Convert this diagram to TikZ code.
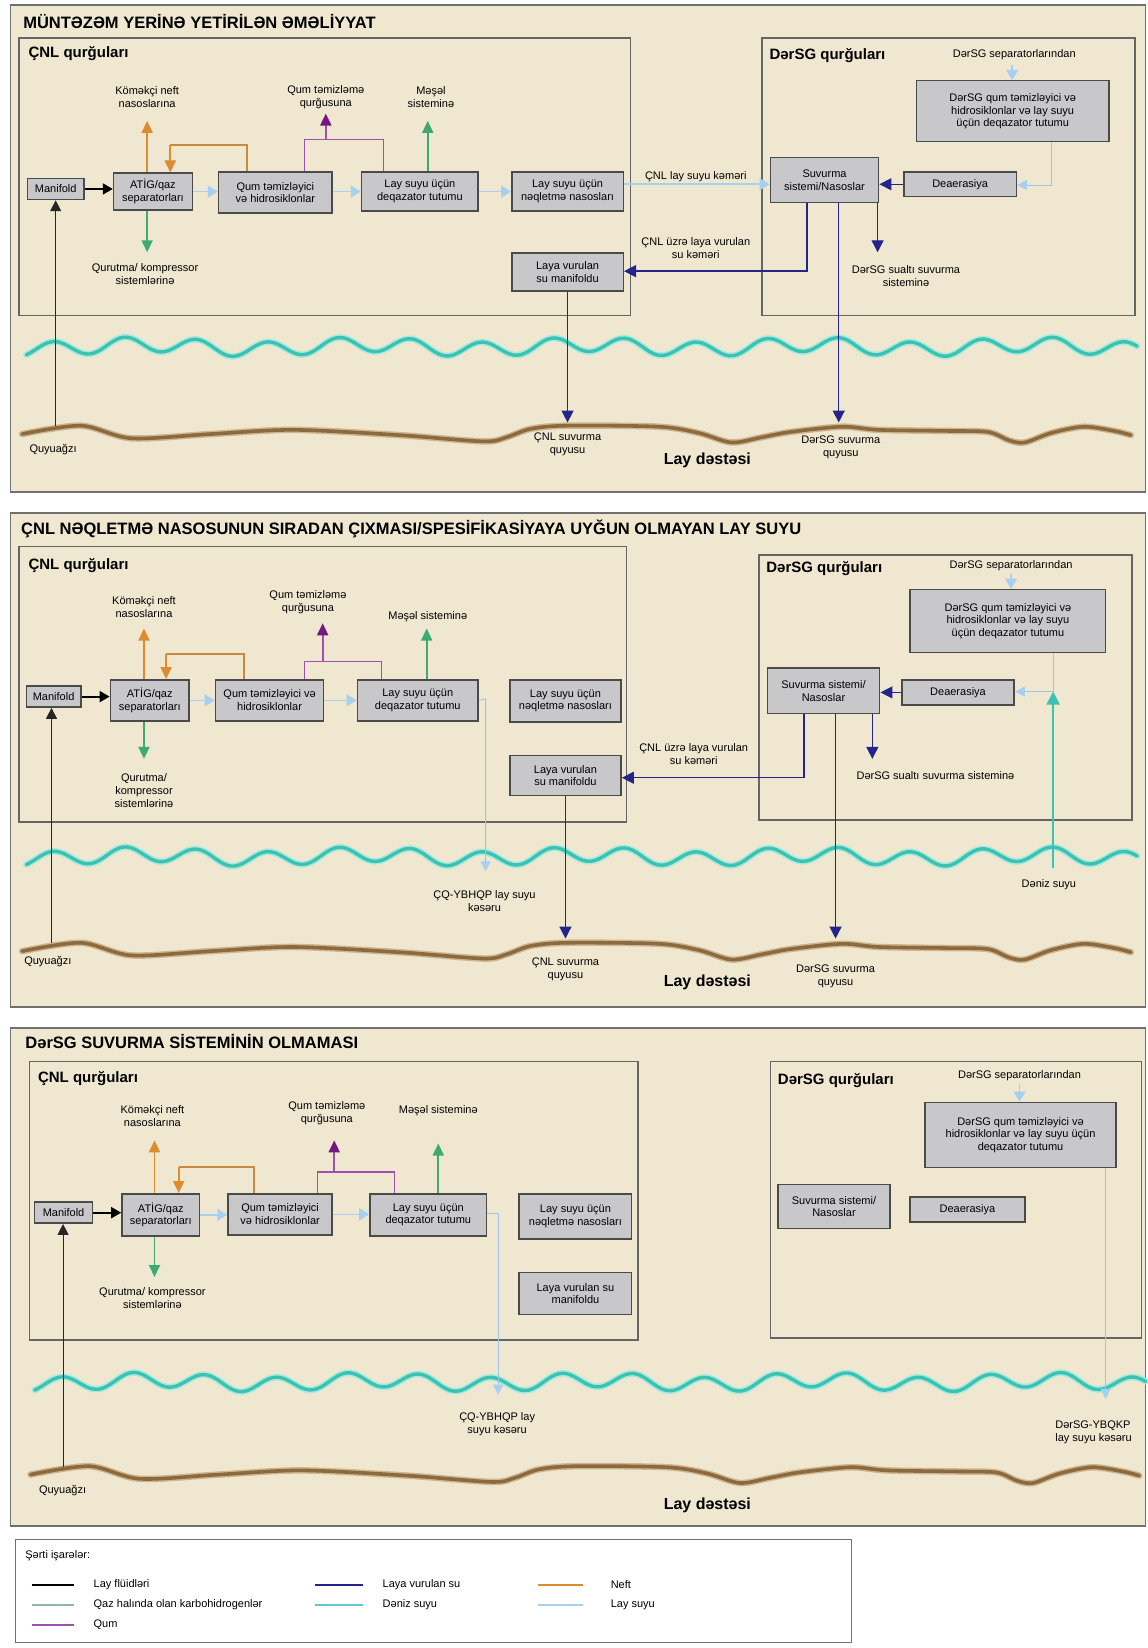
\documentclass[tikz,border=0pt]{standalone}
\usepackage{fontspec}
\setmainfont{Liberation Sans}
\usetikzlibrary{arrows.meta}

\definecolor{paper}{HTML}{EFE7D0}
\definecolor{framecol}{HTML}{707070}
\definecolor{boxfill}{HTML}{C8C8CB}
\definecolor{boxline}{HTML}{4A4A4A}
\definecolor{oilc}{HTML}{DE8A2E}
\definecolor{oilline}{HTML}{C98A3E}
\definecolor{gasc}{HTML}{3DAA74}
\definecolor{sandc}{HTML}{A050B0}
\definecolor{sanddark}{HTML}{74187F}
\definecolor{navyc}{HTML}{24248C}
\definecolor{pwc}{HTML}{A6D0F2}
\definecolor{seac}{HTML}{3CC2B0}
\definecolor{seaglowc}{HTML}{A8EADF}
\definecolor{earthc}{HTML}{8C6A3E}
\definecolor{earthglowc}{HTML}{CDB690}
\definecolor{legsea}{HTML}{5CC8D8}
\definecolor{leggas}{HTML}{8FB8A0}

\newcommand\nodefont{\fontsize{11}{12.5}\selectfont}
\newcommand\lblfont{\fontsize{11}{13}\selectfont}
\newcommand\sealine{plot[domain=25:1082,samples=300,smooth] (\x,{330+7*sin(5.3*\x)+2.5*sin(1.7*\x+40)})}
\newcommand\groundline{plot[smooth,tension=0.5] coordinates {(21,413) (77,405) (125,417) (200,413) (279,409) (380,414) (460,420) (482,416) (505,408) (540,405) (627,406) (665,412) (696,421) (725,416) (752,411) (801,406) (836,409) (900,410) (940,411) (960,419) (975,421) (1000,412) (1031,406) (1060,410) (1076,414)}}
% unit box: name, left, top, right, bottom, text
\newcommand\ubx[6]{\node[ubox, minimum width={(#4-#2)*1.0513pt}, minimum height={(#5-#3)*1.0513pt}] (#1) at ({(#2+#4)/2},{(#3+#5)/2+0.8}) {#6};}

\tikzset{
  panel/.style={draw=framecol, line width=1.6pt, fill=paper},
  area/.style={draw=framecol!90!black, line width=1.5pt},
  ubox/.style={draw=boxline, line width=1.5pt, fill=boxfill, inner sep=0pt, align=center, font=\nodefont},
  lbl/.style={align=center, font=\lblfont, inner sep=1pt},
  ttl/.style={anchor=west, inner sep=0pt, font=\fontsize{16.5}{18}\selectfont\bfseries},
  sub/.style={anchor=west, inner sep=0pt, font=\fontsize{15}{17}\selectfont\bfseries},
  bigl/.style={inner sep=0pt, font=\fontsize{16}{18}\selectfont\bfseries},
  flu/.style={draw=black, line width=2pt, -{Triangle[length=10pt,width=11pt]}},
  fluthin/.style={draw=black!85, line width=1.1pt, -{Triangle[length=11pt,width=11pt]}},
  oil/.style={draw=oilline, line width=1.8pt},
  oilarr/.style={draw=oilc, line width=1.8pt, -{Triangle[length=12pt,width=11pt]}},
  gasarr/.style={draw=gasc, line width=1.8pt, -{Triangle[length=12pt,width=11pt]}},
  sand/.style={draw=sandc, line width=1.2pt},
  sandarr/.style={draw=sandc, line width=2pt, -{Triangle[length=12pt,width=11pt,color=sanddark]}},
  inj/.style={draw=navyc, line width=1.4pt, -{Triangle[length=12pt,width=12pt]}},
  pw/.style={draw=pwc, line width=1.5pt, -{Triangle[length=10pt,width=12pt]}},
  pwthin/.style={draw=pwc!85!gray, line width=0.9pt, -{Triangle[length=10pt,width=10pt,color=pwc]}},
  seawater/.style={draw=seac, line width=2.2pt, -{Triangle[length=13pt,width=13pt]}},
  seaglow/.style={draw=seaglowc, line width=6.5pt, line cap=round},
  sea/.style={draw=seac, line width=3.4pt, line cap=round},
  earthglow/.style={draw=earthglowc, line width=6.5pt, line cap=round},
  earth/.style={draw=earthc, line width=3.6pt, line cap=round},
  leg/.style={line width=2.4pt},
}

\begin{document}
\begin{tikzpicture}[x=1.0513pt,y=-1.0513pt]
\useasboundingbox (0,0) rectangle (1092,1568);
\fill[white] (0,0) rectangle (1092,1568);

% ================= Panel 1: normal operation =================
\draw[panel] (10,5) rectangle (1090,468);
\node[ttl] (t1) at (22,20) {MÜNTƏZƏM YERİNƏ YETİRİLƏN ƏMƏLİYYAT};
\draw[area] (18,36) rectangle (600,300);
\node[sub] (c1) at (27,51) {ÇNL qurğuları};
\draw[area] (725,36) rectangle (1080,300);
\node[sub] (d1) at (732,53) {DərSG qurğuları};

\draw[seaglow] \sealine;
\draw[sea] \sealine;
\draw[earthglow] \groundline;
\draw[earth] \groundline;

\ubx{man1}{26}{169}{80}{189}{Manifold}
\ubx{atig1}{108}{164}{183}{199}{ATİG/qaz\\separatorları}
\ubx{qum1}{208}{163}{316}{202}{Qum təmizləyici\\və hidrosiklonlar}
\ubx{deq1}{344}{163}{455}{200}{Lay suyu üçün\\deqazator tutumu}
\ubx{nql1}{487}{163}{593}{200}{Lay suyu üçün\\nəqletmə nasosları}
\ubx{lvm1}{487}{240}{593}{276}{Laya vurulan\\su manifoldu}
\ubx{suv1}{733}{149}{836}{192}{Suvurma\\sistemi/Nasoslar}
\ubx{dea1}{860}{163}{967}{186}{Deaerasiya}
\ubx{dqm1}{872}{76}{1055}{134}{DərSG qum təmizləyici və\\hidrosiklonlar və lay suyu\\üçün deqazator tutumu}

\coordinate (wh1) at (53,405);
\coordinate (oilup1) at (140,115);
\coordinate (oilr1) at (235,138);
\coordinate (oill1) at (162,138);
\coordinate (dry1) at (140,240);
\coordinate (sl1) at (290,133);
\coordinate (sr1) at (365,133);
\coordinate (sup1) at (310,108);
\coordinate (gas1) at (407,115);
\coordinate (cwell1) at (540,402);
\coordinate (nv1) at (768,258);
\coordinate (well1) at (798,402);
\coordinate (subs1) at (835,240);
\coordinate (dsep1) at (963,62);
\coordinate (dv1) at (1000,176);

\draw[flu] (man1.east) -- (atig1.west |- man1.east);
\draw[fluthin] (wh1) -- (man1.south -| wh1);
\draw[oilarr] (atig1.north -| oilup1) -- (oilup1);
\draw[oil] (qum1.north -| oilr1) -- (oilr1) -- (oill1);
\draw[oilarr] (oill1) -- (atig1.north -| oill1);
\draw[gasarr] (atig1.south -| dry1) -- (dry1);
\draw[pw] (atig1.east) -- (qum1.west |- atig1.east);
\draw[pw] (qum1.east |- deq1.east) -- (deq1.west);
\draw[pw] (deq1.east) -- (nql1.west |- deq1.east);
\draw[sand] (qum1.north -| sl1) -- (sl1) -- (sr1) -- (deq1.north -| sr1);
\draw[sandarr] (sup1 |- sl1) -- (sup1);
\draw[gasarr] (deq1.north -| gas1) -- (gas1);
\draw[pw] (nql1.east |- dea1.west) -- (suv1.west |- dea1.west);
\draw[inj] (lvm1.south -| cwell1) -- (cwell1);
\draw[inj] (suv1.south -| nv1) -- (nv1) -- (lvm1.east |- nv1);
\draw[inj] (suv1.south -| well1) -- (well1);
\draw[inj] (suv1.south -| subs1) -- (subs1);
\draw[inj] (dea1.west) -- (suv1.east |- dea1.west);
\draw[pw] (dsep1) -- (dqm1.north -| dsep1);
\draw[pwthin] (dqm1.south -| dv1) -- (dv1) -- (dea1.east |- dv1);

\node[lbl] (k1) at (140,92) {Köməkçi neft\\nasoslarına};
\node[lbl] (qt1) at (310,92) {Qum təmizləmə\\qurğusuna};
\node[lbl] (ms1) at (410,92) {Məşəl\\sisteminə};
\node[lbl] (qk1) at (138,261) {Qurutma/ kompressor\\sistemlərinə};
\node[lbl] (ck1) at (662,168) {ÇNL lay suyu kəməri};
\node[lbl] (cu1) at (662,236) {ÇNL üzrə laya vurulan\\su kəməri};
\node[lbl] (ds1) at (965,52) {DərSG separatorlarından};
\node[lbl] (dsu1) at (862,263) {DərSG sualtı suvurma\\sisteminə};
\node[lbl, anchor=west] (qa1) at (27,428) {Quyuağzı};
\node[lbl] (cw1) at (540,423) {ÇNL suvurma\\quyusu};
\node[bigl] (ld1) at (673,438) {Lay dəstəsi};
\node[lbl] (dw1) at (800,426) {DərSG suvurma\\quyusu};

% ================= Panel 2: transfer pump failure =================
\draw[panel] (10,488) rectangle (1090,958);
\node[ttl] (t2) at (20,503) {ÇNL NƏQLETMƏ NASOSUNUN SIRADAN ÇIXMASI/SPESİFİKASİYAYA UYĞUN OLMAYAN LAY SUYU};
\draw[area] (18,520) rectangle (596,782);
\node[sub] (c2) at (27,538) {ÇNL qurğuları};
\draw[area] (722,528) rectangle (1077,780);
\node[sub] (d2) at (729,541) {DərSG qurğuları};

\begin{scope}[shift={(0,485)}]
\draw[seaglow] \sealine;
\draw[sea] \sealine;
\end{scope}
\begin{scope}[shift={(0,492)}]
\draw[earthglow] \groundline;
\draw[earth] \groundline;
\end{scope}

\ubx{man2}{25}{652}{77}{672}{Manifold}
\ubx{atig2}{105}{646}{180}{685}{ATİG/qaz\\separatorları}
\ubx{qum2}{205}{646}{308}{685}{Qum təmizləyici və\\hidrosiklonlar}
\ubx{deq2}{340}{646}{455}{685}{Lay suyu üçün\\deqazator tutumu}
\ubx{nql2}{485}{646}{591}{686}{Lay suyu üçün\\nəqletmə nasosları}
\ubx{lvm2}{485}{718}{591}{756}{Laya vurulan\\su manifoldu}
\ubx{suv2}{730}{635}{837}{678}{Suvurma sistemi/\\Nasoslar}
\ubx{dea2}{858}{646}{965}{670}{Deaerasiya}
\ubx{dqm2}{866}{560}{1052}{620}{DərSG qum təmizləyici və\\hidrosiklonlar və lay suyu\\üçün deqazator tutumu}

\coordinate (wh2) at (49,897);
\coordinate (oilup2) at (137,598);
\coordinate (oilr2) at (232,622);
\coordinate (oill2) at (158,622);
\coordinate (dry2) at (137,722);
\coordinate (sl2) at (290,629);
\coordinate (sr2) at (363,629);
\coordinate (sup2) at (307,593);
\coordinate (gas2) at (406,598);
\coordinate (off2a) at (462,665);
\coordinate (off2) at (462,829);
\coordinate (cwell2) at (538,893);
\coordinate (nv2) at (765,740);
\coordinate (well2) at (795,893);
\coordinate (subs2) at (830,722);
\coordinate (dsep2) at (962,546);
\coordinate (dv2) at (1002,658);
\coordinate (sw2a) at (1002,826);
\coordinate (sw2) at (1002,658);

\draw[flu] (man2.east) -- (atig2.west |- man2.east);
\draw[fluthin] (wh2) -- (man2.south -| wh2);
\draw[oilarr] (atig2.north -| oilup2) -- (oilup2);
\draw[oil] (qum2.north -| oilr2) -- (oilr2) -- (oill2);
\draw[oilarr] (oill2) -- (atig2.north -| oill2);
\draw[gasarr] (atig2.south -| dry2) -- (dry2);
\draw[pw] (atig2.east) -- (qum2.west |- atig2.east);
\draw[pw] (qum2.east) -- (deq2.west |- qum2.east);
\draw[sand] (qum2.north -| sl2) -- (sl2) -- (sr2) -- (deq2.north -| sr2);
\draw[sandarr] (sup2 |- sl2) -- (sup2);
\draw[gasarr] (deq2.north -| gas2) -- (gas2);
\draw[pwthin] (deq2.east) -- (off2a) -- (off2);
\draw[inj] (lvm2.south -| cwell2) -- (cwell2);
\draw[inj] (suv2.south -| nv2) -- (nv2) -- (lvm2.east |- nv2);
\draw[inj] (suv2.south -| well2) -- (well2);
\draw[inj] (suv2.south -| subs2) -- (subs2);
\draw[inj] (dea2.west) -- (suv2.east |- dea2.west);
\draw[pw] (dsep2) -- (dqm2.north -| dsep2);
\draw[seawater] (sw2a) -- (sw2);
\draw[pwthin] (dqm2.south -| dv2) -- (dv2) -- (dea2.east |- dv2);

\node[lbl] (k2) at (137,578) {Köməkçi neft\\nasoslarına};
\node[lbl] (qt2) at (293,573) {Qum təmizləmə\\qurğusuna};
\node[lbl] (ms2) at (407,587) {Məşəl sisteminə};
\node[lbl] (qk2) at (137,752) {Qurutma/\\kompressor\\sistemlərinə};
\node[lbl] (cu2) at (660,717) {ÇNL üzrə laya vurulan\\su kəməri};
\node[lbl] (ds2) at (962,538) {DərSG separatorlarından};
\node[lbl] (dsu2) at (890,738) {DərSG sualtı suvurma sisteminə};
\node[lbl] (ob2) at (461,857) {ÇQ-YBHQP lay suyu\\kəsəru};
\node[lbl] (dz2) at (998,842) {Dəniz suyu};
\node[lbl, anchor=west] (qa2) at (22,915) {Quyuağzı};
\node[lbl] (cw2) at (538,922) {ÇNL suvurma\\quyusu};
\node[bigl] (ld2) at (673,935) {Lay dəstəsi};
\node[lbl] (dw2) at (795,929) {DərSG suvurma\\quyusu};

% ================= Panel 3: no DerSG injection system =================
\draw[panel] (10,978) rectangle (1090,1452);
\node[ttl] (t3) at (24,991) {DərSG SUVURMA SİSTEMİNİN OLMAMASI};
\draw[area] (28,1010) rectangle (607,1275);
\node[sub] (c3) at (36,1026) {ÇNL qurğuları};
\draw[area] (733,1010) rectangle (1086,1273);
\node[sub] (d3) at (740,1028) {DərSG qurğuları};

\begin{scope}[shift={(8,985)}]
\draw[seaglow] \sealine;
\draw[sea] \sealine;
\end{scope}
\begin{scope}[shift={(8,990)}]
\draw[earthglow] \groundline;
\draw[earth] \groundline;
\end{scope}

\ubx{man3}{33}{1143}{88}{1163}{Manifold}
\ubx{atig3}{116}{1135}{190}{1175}{ATİG/qaz\\separatorları}
\ubx{qum3}{217}{1135}{316}{1174}{Qum təmizləyici\\və hidrosiklonlar}
\ubx{deq3}{352}{1135}{463}{1175}{Lay suyu üçün\\deqazator tutumu}
\ubx{nql3}{494}{1135}{601}{1178}{Lay suyu üçün\\nəqletmə nasosları}
\ubx{lvm3}{494}{1210}{601}{1250}{Laya vurulan su\\manifoldu}
\ubx{suv3}{740}{1126}{847}{1168}{Suvurma sistemi/\\Nasoslar}
\ubx{dea3}{866}{1138}{975}{1162}{Deaerasiya}
\ubx{dqm3}{880}{1048}{1062}{1110}{DərSG qum təmizləyici və\\hidrosiklonlar və lay suyu üçün\\deqazator tutumu}

\coordinate (wh3) at (60,1396);
\coordinate (oilup3) at (147,1085);
\coordinate (oilr3) at (242,1110);
\coordinate (oill3) at (170,1110);
\coordinate (dry3) at (147,1215);
\coordinate (sl3) at (302,1115);
\coordinate (sr3) at (375,1115);
\coordinate (sup3) at (318,1085);
\coordinate (gas3) at (417,1088);
\coordinate (off3a) at (474,1155);
\coordinate (off3) at (474,1327);
\coordinate (dsep3) at (970,1031);
\coordinate (doff3) at (1052,1331);

\draw[flu] (man3.east) -- (atig3.west |- man3.east);
\draw[fluthin] (wh3) -- (man3.south -| wh3);
\draw[oilarr] (atig3.north -| oilup3) -- (oilup3);
\draw[oil] (qum3.north -| oilr3) -- (oilr3) -- (oill3);
\draw[oilarr] (oill3) -- (atig3.north -| oill3);
\draw[gasarr] (atig3.south -| dry3) -- (dry3);
\draw[pw] (atig3.east) -- (qum3.west |- atig3.east);
\draw[pw] (qum3.east) -- (deq3.west |- qum3.east);
\draw[sand] (qum3.north -| sl3) -- (sl3) -- (sr3) -- (deq3.north -| sr3);
\draw[sandarr] (sup3 |- sl3) -- (sup3);
\draw[gasarr] (deq3.north -| gas3) -- (gas3);
\draw[pwthin] (deq3.east |- off3a) -- (off3a) -- (off3);
\draw[pw] (dsep3) -- (dqm3.north -| dsep3);
\draw[pwthin] (dqm3.south -| doff3) -- (doff3);

\node[lbl] (k3) at (145,1062) {Köməkçi neft\\nasoslarına};
\node[lbl] (qt3) at (311,1059) {Qum təmizləmə\\qurğusuna};
\node[lbl] (ms3) at (417,1057) {Məşəl sisteminə};
\node[lbl] (qk3) at (145,1235) {Qurutma/ kompressor\\sistemlərinə};
\node[lbl] (ds3) at (970,1023) {DərSG separatorlarından};
\node[lbl] (ob3) at (473,1355) {ÇQ-YBHQP lay\\suyu kəsəru};
\node[lbl, anchor=west, align=left] (ob3d) at (1003,1363) {DərSG-YBQKP\\lay suyu kəsəru};
\node[lbl, anchor=west] (qa3) at (36,1418) {Quyuağzı};
\node[bigl] (ld3) at (673,1432) {Lay dəstəsi};

% ================= Legend =================
\draw[draw=framecol, line width=1.3pt, fill=white] (15,1465) rectangle (810,1563);
\node[lbl, anchor=west] (lg) at (23,1480) {Şərti işarələr:};
\draw[leg, black] (30,1508) -- (70,1508);
\node[lbl, anchor=west] (lg1) at (88,1508) {Lay flüidləri};
\draw[leg, leggas] (30,1527) -- (70,1527);
\node[lbl, anchor=west] (lg2) at (88,1527) {Qaz halında olan karbohidrogenlər};
\draw[leg, sandc] (30,1546) -- (70,1546);
\node[lbl, anchor=west] (lg3) at (88,1546) {Qum};
\draw[leg, navyc] (300,1508) -- (345,1508);
\node[lbl, anchor=west] (lg4) at (363,1508) {Laya vurulan su};
\draw[leg, legsea] (300,1527) -- (345,1527);
\node[lbl, anchor=west] (lg5) at (363,1527) {Dəniz suyu};
\draw[leg, oilc] (512,1508) -- (555,1508);
\node[lbl, anchor=west] (lg6) at (580,1508) {Neft};
\draw[leg, pwc] (512,1527) -- (555,1527);
\node[lbl, anchor=west] (lg7) at (580,1527) {Lay suyu};
\end{tikzpicture}
\end{document}
